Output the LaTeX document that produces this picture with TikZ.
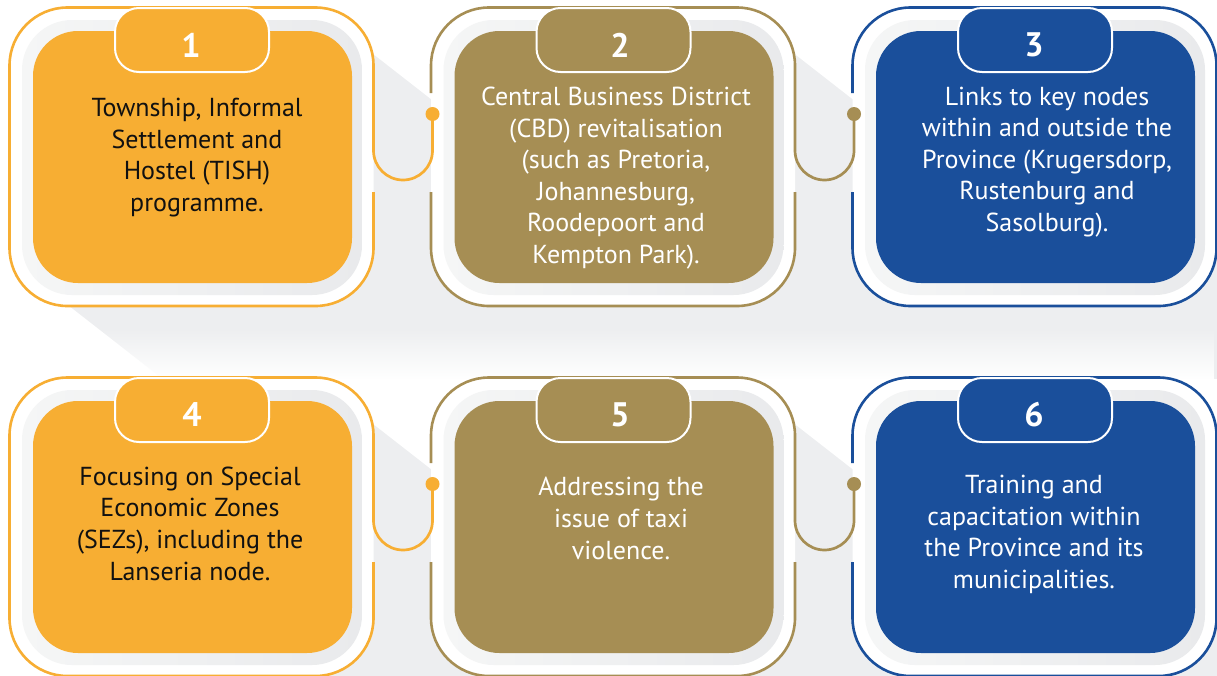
\documentclass[tikz,border=0pt]{standalone}
\usepackage{fontspec}
\setmainfont{PT Sans}
\usetikzlibrary{calc,fadings}
\definecolor{corange}{HTML}{F7AE33}
\definecolor{cgold}{HTML}{A68E54}
\definecolor{cblue}{HTML}{1A4F9B}
\definecolor{shadowgray}{HTML}{EDEEF0}
\definecolor{plateL}{HTML}{F5F6F6}
\definecolor{plateR}{HTML}{E9EAEC}
\definecolor{txtdark}{HTML}{111111}
\tikzset{
  framebg/.style={fill=white, rounded corners=58pt},
  frameline/.style={line width=2.6pt, rounded corners=58pt},
  plate/.style={left color=plateL, right color=plateR, rounded corners=50pt},
  cardbox/.style={rounded corners=45pt, minimum width=319pt, minimum height=252pt, inner sep=0pt},
  tabbox/.style={rounded corners=24pt, draw=white, line width=2pt, minimum width=154pt, minimum height=64pt, inner sep=0pt},
  digit/.style={text=white, font=\fontsize{34}{34}\selectfont\bfseries, inner sep=0pt},
  cardtext/.style={align=center, font=\fontsize{26}{31.6}\selectfont, inner sep=0pt},
  conn/.style={line width=2.7pt, rounded corners=29.5pt},
  dot/.style={circle, minimum size=14pt, inner sep=0pt}
}
\begin{document}
\begin{tikzpicture}[x=1pt,y=-1pt]
\useasboundingbox (0,0) rectangle (1217,675);
\clip (0,0) rectangle (1217,675);
% long shadows, row 1
\begin{scope}
  \clip (0,0) rectangle (1217,378.5);
  \foreach \c in {0,1,2}{
    \pgfmathsetmacro\dx{421.5*\c}
    \fill[shadowgray] ({\dx+343},30.6) -- ++(800,624) -- ({\dx+841},908) -- ({\dx+41},284) -- cycle;
  }
\end{scope}
\fill[white, path fading=north] (0,328) rectangle (1217,379);
% long shadows, row 2
\foreach \c in {0,1,2}{
  \pgfmathsetmacro\dx{421.5*\c}
  \fill[shadowgray] ({\dx+343},400.6) -- ++(800,624) -- ({\dx+841},1278) -- ({\dx+41},654) -- cycle;
}
% cards
\foreach \c/\r/\col/\num/\tx/\ty/\nx/\tc/\txt in {
  0/0/corange/1/197/157.5/191/txtdark/{Township, Informal\\Settlement and\\Hostel (TISH)\\programme.},
  1/0/cgold/2/194.5/178/198.5/white/{Central Business District\\(CBD) revitalisation\\(such as Pretoria,\\Johannesburg,\\Roodepoort and\\Kempton Park).},
  2/0/cblue/3/204/162/191/white/{Links to key nodes\\within and outside the\\Province (Krugersdorp,\\Rustenburg and\\Sasolburg).},
  0/1/corange/4/190/153.5/192/txtdark/{Focusing on Special\\Economic Zones\\(SEZs), including the\\Lanseria node.},
  1/1/cgold/5/199.5/148.5/198.5/white/{Addressing the\\issue of taxi\\violence.},
  2/1/cblue/6/191/164.5/191/white/{Training and\\capacitation within\\the Province and its\\municipalities.}}{
  \pgfmathsetmacro\dx{421.5*\c}
  \pgfmathsetmacro\dy{370*\r}
  \begin{scope}[shift={(\dx,\dy)}]
    \fill[framebg] (9.5,7.5) rectangle (373.5,306);
    \ifnum\c=0
      \draw[frameline, draw=\col] (373.5,192) -- (373.5,306) -- (9.5,306) -- (9.5,7.5) -- (373.5,7.5) -- (373.5,150);
    \fi
    \ifnum\c=1
      \draw[frameline, draw=\col] (9.5,192) -- (9.5,306) -- (373.5,306) -- (373.5,192);
      \draw[frameline, draw=\col] (373.5,150) -- (373.5,7.5) -- (9.5,7.5) -- (9.5,93);
    \fi
    \ifnum\c=2
      \draw[frameline, draw=\col] (9.5,192) -- (9.5,306) -- (373.5,306) -- (373.5,7.5) -- (9.5,7.5) -- (9.5,93);
    \fi
    \shade[plate] (22,20) rectangle (362,295);
    \node[cardbox, fill=\col] (card\num) at (192.5,157) {};
    \node[tabbox, fill=\col] (tab\num) at (192,40) {};
    \node[digit] (num\num) at (\nx,45) {\num};
    \node[cardtext, text=\tc] (text\num) at (\tx,\ty) {\txt};
  \end{scope}
}
% connectors between neighbouring cards
\foreach \c/\r/\col in {0/0/corange, 1/0/cgold, 0/1/corange, 1/1/cgold}{
  \pgfmathsetmacro\dx{421.5*\c}
  \pgfmathsetmacro\dy{370*\r}
  \coordinate (start\c\r) at ({\dx+373.5},{\dy+150});
  \node[dot, fill=\col] (dot\c\r) at ({\dx+432.5},{\dy+114}) {};
  \draw[conn, draw=\col] (start\c\r) -- ++(0,30) -| (dot\c\r.center);
}
\end{tikzpicture}
\end{document}
